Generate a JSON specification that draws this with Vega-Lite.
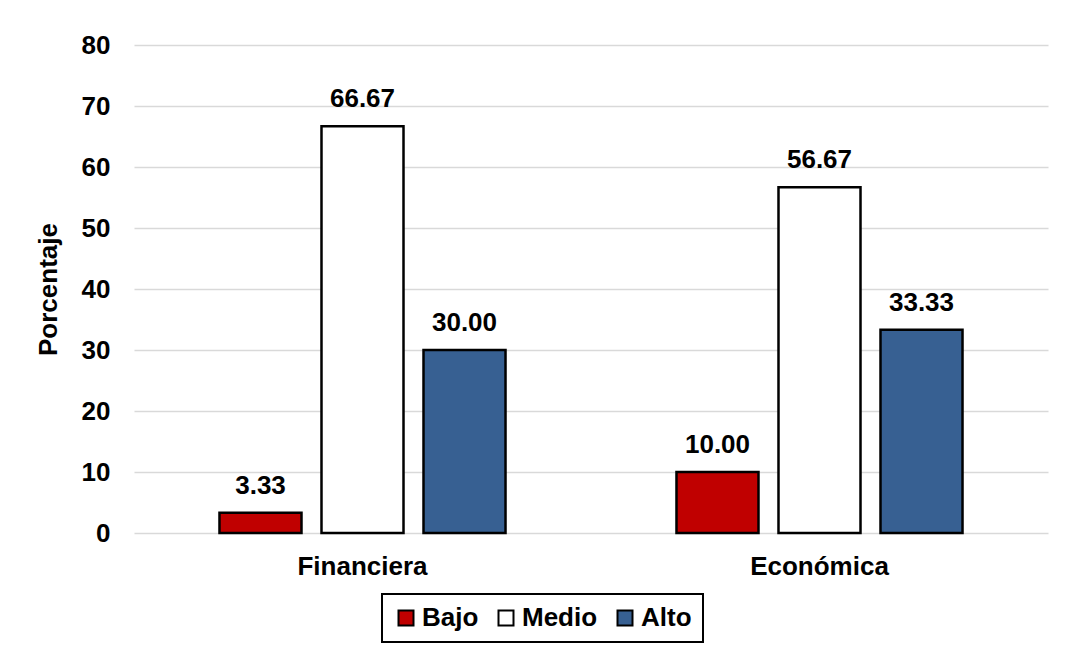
{
  "$schema": "https://vega.github.io/schema/vega-lite/v6.json",
  "autosize": "none",
  "width": 914,
  "height": 488,
  "padding": {"left": 134, "top": 45, "right": 17, "bottom": 115},
  "background": "white",
  "config": {"font": "Liberation Sans", "view": {"stroke": null}},
  "data": {
    "values": [
      {"dimension": "Financiera", "nivel": "Bajo", "pct": 3.33},
      {"dimension": "Financiera", "nivel": "Medio", "pct": 66.67},
      {"dimension": "Financiera", "nivel": "Alto", "pct": 30.0},
      {"dimension": "Económica", "nivel": "Bajo", "pct": 10.0},
      {"dimension": "Económica", "nivel": "Medio", "pct": 56.67},
      {"dimension": "Económica", "nivel": "Alto", "pct": 33.33}
    ]
  },
  "encoding": {
    "x": {
      "field": "dimension",
      "type": "nominal",
      "sort": ["Financiera", "Económica"],
      "scale": {"paddingInner": 0, "paddingOuter": 0},
      "axis": {
        "title": null,
        "domain": false,
        "ticks": false,
        "labelAngle": 0,
        "labelPadding": 20,
        "labelFontSize": 26,
        "labelFontWeight": "bold",
        "labelColor": "black"
      }
    },
    "xOffset": {
      "field": "nivel",
      "type": "nominal",
      "sort": ["Bajo", "Medio", "Alto"],
      "scale": {"paddingInner": 0.196, "paddingOuter": 0.838}
    },
    "y": {
      "field": "pct",
      "type": "quantitative",
      "scale": {"domain": [0, 80]},
      "axis": {
        "values": [0, 10, 20, 30, 40, 50, 60, 70, 80],
        "domain": false,
        "ticks": false,
        "grid": true,
        "gridColor": "#d9d9d9",
        "gridWidth": 1.5,
        "labelPadding": 24,
        "labelFontSize": 26,
        "labelFontWeight": "bold",
        "labelColor": "black",
        "title": "Porcentaje",
        "titleFontSize": 26,
        "titleFontWeight": "bold",
        "titleColor": "black",
        "titlePadding": 20
      }
    }
  },
  "layer": [
    {
      "mark": {"type": "bar", "stroke": "black", "strokeWidth": 2.5},
      "encoding": {
        "fill": {
          "field": "nivel",
          "type": "nominal",
          "sort": ["Bajo", "Medio", "Alto"],
          "scale": {"domain": ["Bajo", "Medio", "Alto"], "range": ["#C00000", "#FFFFFF", "#376092"]},
          "legend": {
            "title": null,
            "orient": "none",
            "direction": "horizontal",
            "legendX": 248,
            "legendY": 549,
            "symbolType": "square",
            "symbolSize": 225,
            "symbolStrokeColor": "black",
            "symbolStrokeWidth": 2,
            "symbolOpacity": 1,
            "labelFontSize": 26,
            "labelFontWeight": "bold",
            "labelColor": "black",
            "labelOffset": 3,
            "columnPadding": 14,
            "padding": 11,
            "strokeColor": "black",
            "encode": {"legend": {"update": {"strokeWidth": {"value": 2}}}}
          }
        }
      }
    },
    {
      "mark": {"type": "text", "baseline": "alphabetic", "dy": -19, "fontSize": 26, "fontWeight": "bold", "color": "black"},
      "encoding": {"text": {"field": "pct", "type": "quantitative", "format": ".2f"}}
    }
  ]
}
